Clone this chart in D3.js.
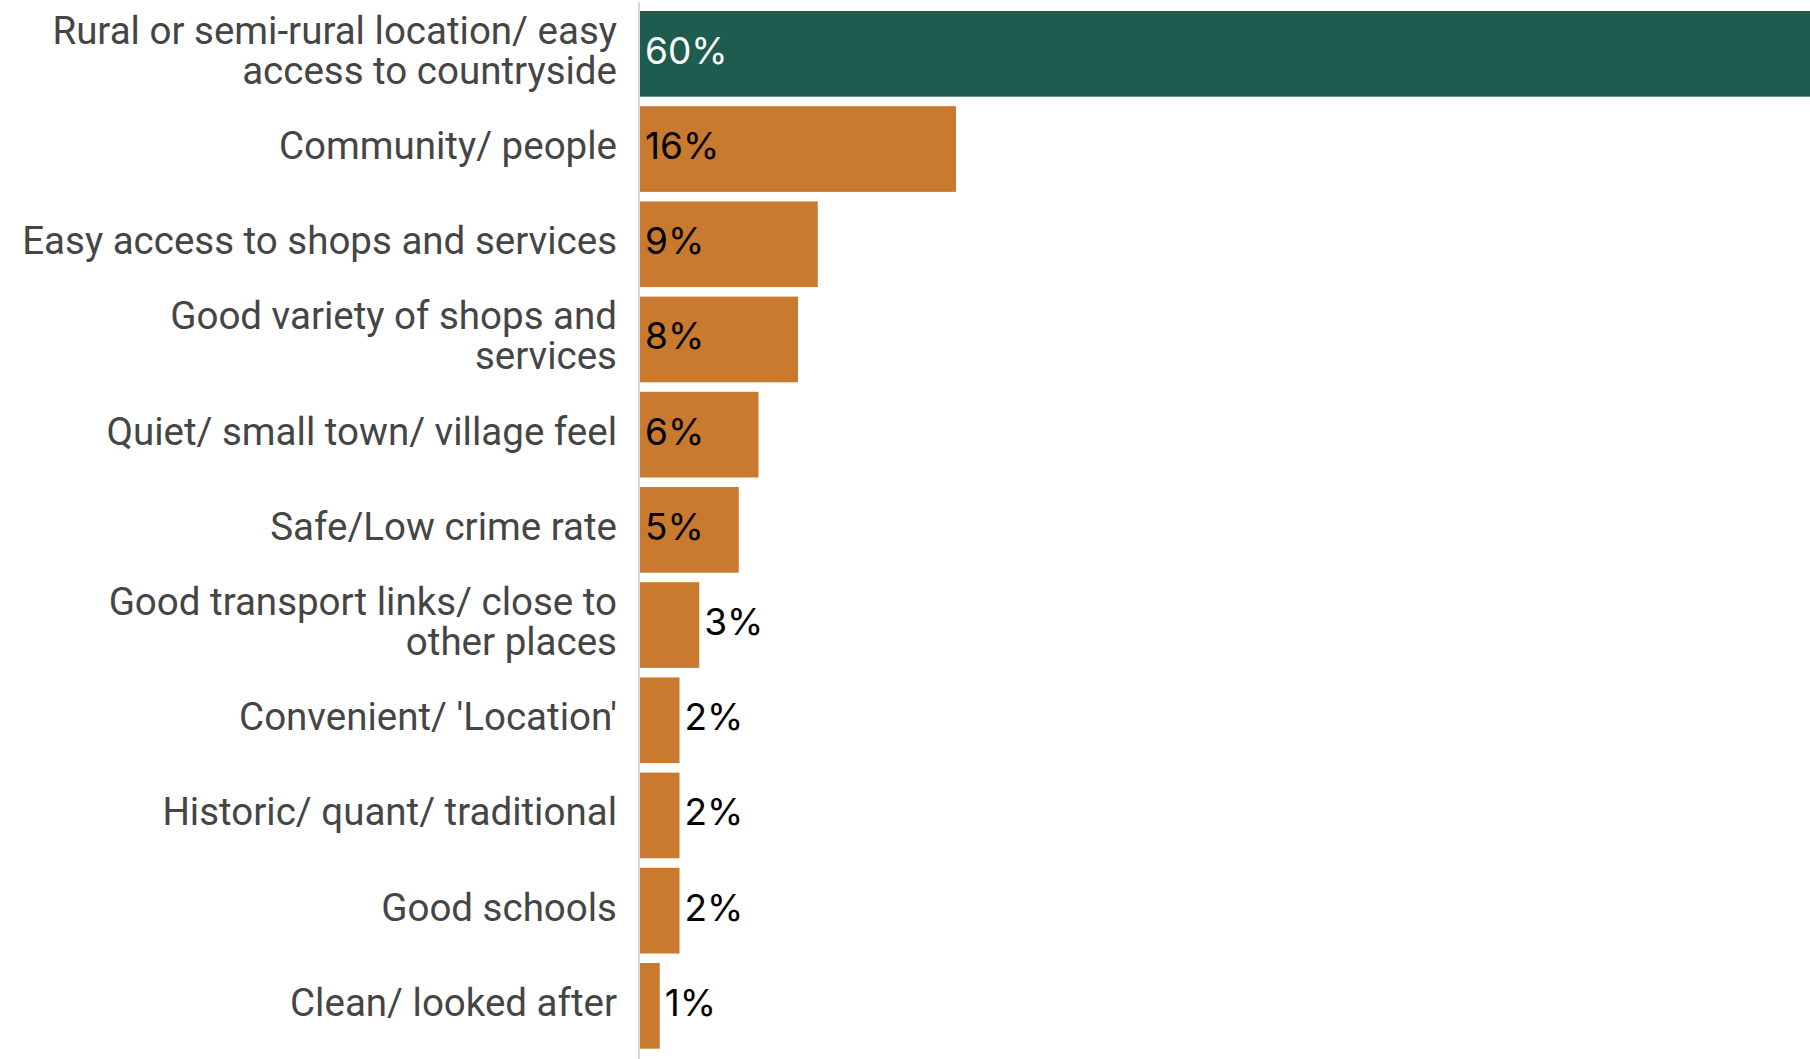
<!DOCTYPE html>
<html>
<head>
<meta charset="utf-8">
<script src="https://cdn.jsdelivr.net/npm/d3@7"></script>
<style>
  html, body { margin: 0; padding: 0; background: #fff; overflow: hidden; }
  svg { display: block; }
</style>
</head>
<body>
<svg id="chart" width="1810" height="1059"></svg>
<script>
// What people like about where they live (% of respondents)
const categories = [
  ["Rural or semi-rural location/ easy", "access to countryside"],
  ["Community/ people"],
  ["Easy access to shops and services"],
  ["Good variety of shops and", "services"],
  ["Quiet/ small town/ village feel"],
  ["Safe/Low crime rate"],
  ["Good transport links/ close to", "other places"],
  ["Convenient/ 'Location'"],
  ["Historic/ quant/ traditional"],
  ["Good schools"],
  ["Clean/ looked after"]
];
const values = [60, 16, 9, 8, 6, 5, 3, 2, 2, 2, 1];
const highlight = [true, false, false, false, false, false, false, false, false, false, false];

const svg = d3.select("#chart");
const x0 = 640;

const ids = d3.range(values.length);
const y = d3.scaleBand()
  .domain(ids)
  .range([11, 1048.7])
  .paddingInner(0.1)
  .paddingOuter(0);

const x = d3.scaleLinear()
  .domain([0, 60])
  .range([x0, x0 + 1185]);

// bars
svg.append("g")
  .selectAll("rect")
  .data(ids)
  .join("rect")
  .attr("x", x(0))
  .attr("y", i => y(i))
  .attr("width", i => x(values[i]) - x(0))
  .attr("height", y.bandwidth())
  .attr("fill", i => highlight[i] ? "#1e5c50" : "#c97a2e");

// vertical baseline
svg.append("line")
  .attr("x1", x0 - 1).attr("x2", x0 - 1)
  .attr("y1", 2).attr("y2", 1059)
  .attr("stroke", "#d9d9d9")
  .attr("stroke-width", 2);

// category labels, one text per line
const lineH = 40;
const labels = svg.append("g")
  .attr("font-family", "Roboto, 'Noto Sans', sans-serif")
  .attr("font-size", 38.5)
  .attr("fill", "#454545")
  .attr("text-anchor", "end");

ids.forEach(i => {
  const lines = categories[i];
  const cy = y(i) + y.bandwidth() / 2 - 3.5;
  lines.forEach((ln, k) => {
    labels.append("text")
      .attr("x", 617)
      .attr("y", cy - (lines.length - 1) * lineH / 2 + k * lineH)
      .attr("dy", "0.35em")
      .text(ln);
  });
});

// value labels
svg.append("g")
  .attr("font-family", "Inter, Roboto, sans-serif")
  .attr("font-size", 37)
  .selectAll("text")
  .data(ids)
  .join("text")
  .attr("x", i => values[i] >= 4 ? x(0) + 5 : x(values[i]) + 5)
  .attr("y", i => y(i) + y.bandwidth() / 2 - 3)
  .attr("dy", "0.35em")
  .attr("fill", i => highlight[i] ? "#fff" : "#000")
  .text(i => values[i] + "%");
</script>
</body>
</html>
